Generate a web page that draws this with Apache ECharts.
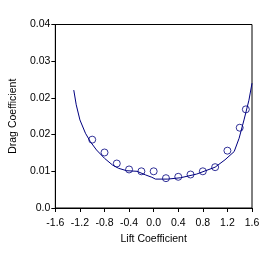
<!DOCTYPE html>
<html>
<head>
<meta charset="utf-8">
<script src="https://cdn.jsdelivr.net/npm/echarts@6/dist/echarts.min.js"></script>
<style>
html,body{margin:0;padding:0;background:#fff;}
#c{width:275px;height:255px;}
</style>
</head>
<body>
<div id="c"></div>
<script>
const markerX = [-1.0,-0.8,-0.6,-0.4,-0.2,0.0,0.2,0.4,0.6,0.8,1.0,1.2,1.4,1.5];
const markerY = [0.0149,0.0121,0.0097,0.0084,0.0080,0.0080,0.0065,0.0068,0.0073,0.0080,0.0089,0.0125,0.0175,0.0215];
const curveX = [-1.30,-1.26,-1.20,-1.11,-1.03,-0.93,-0.80,-0.67,-0.57,-0.44,-0.27,-0.13,-0.03,0.03,0.23,0.44,0.70,1.00,1.16,1.31,1.39,1.47,1.55,1.60];
const curveY = [0.0257,0.0225,0.0192,0.0163,0.01445,0.01265,0.01083,0.00937,0.00865,0.00813,0.0080,0.0072,0.0067,0.0063,0.0063,0.0066,0.0074,0.0089,0.0105,0.0123,0.0152,0.0192,0.0235,0.0272];
const yTickLabels = ["0.0","0.01","0.02","0.02","0.03","0.04"];
const xName = "Lift Coefficient";
const yName = "Drag Coefficient";

const font = "Liberation Sans, Arial, sans-serif";
const chart = echarts.init(document.getElementById('c'), null, {renderer:'canvas'});
chart.setOption({
  animation:false,
  backgroundColor:'#fff',
  grid:{left:45,right:23,top:24.5,bottom:47,show:true,borderColor:'#000',borderWidth:1,backgroundColor:'transparent'},
  xAxis:{
    type:'value',min:-1.6,max:1.6,interval:0.4,
    name:xName,nameLocation:'middle',nameGap:25,
    nameTextStyle:{color:'#000',fontSize:10.5,fontFamily:font},
    axisLine:{show:true,onZero:false,lineStyle:{color:'#000',width:1}},
    axisTick:{show:true,length:4,inside:false,lineStyle:{color:'#000'}},
    splitLine:{show:false},
    axisLabel:{color:'#000',fontSize:10.5,fontFamily:font,margin:10,formatter:v=>v.toFixed(1)}
  },
  yAxis:{
    type:'value',min:0,max:0.04,interval:0.008,
    name:yName,nameLocation:'middle',nameGap:33,nameRotate:90,
    nameTextStyle:{color:'#000',fontSize:10.5,fontFamily:font},
    axisLine:{show:true,onZero:false,lineStyle:{color:'#000',width:1}},
    axisTick:{show:true,length:4,inside:false,lineStyle:{color:'#000'}},
    splitLine:{show:false},
    axisLabel:{color:'#000',fontSize:10.5,fontFamily:font,margin:5,hideOverlap:false,formatter:v=>yTickLabels[Math.round(v/0.008)]}
  },
  series:[
    {type:'line',data:curveX.map((x,i)=>[x,curveY[i]]),showSymbol:false,symbol:'none',smooth:false,
     lineStyle:{color:'#000080',width:1},clip:true,z:2},
    {type:'scatter',data:markerX.map((x,i)=>[x,markerY[i]]),symbol:'circle',symbolSize:7,z:3,
     itemStyle:{color:'rgba(0,0,0,0)',borderColor:'#000080',borderWidth:1}}
  ]
});
</script>
</body>
</html>
